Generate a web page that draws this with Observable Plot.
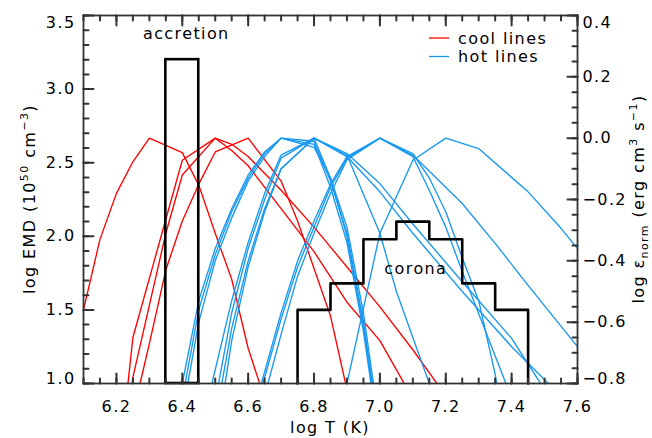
<!DOCTYPE html>
<html><head><meta charset="utf-8">
<script src="https://cdn.jsdelivr.net/npm/d3@7"></script>
<script src="https://cdn.jsdelivr.net/npm/@observablehq/plot@0.6"></script>
<style>body{margin:0;background:#fff}svg{display:block}</style>
</head><body><div id="chart"></div>
<script>
// ---- axis ticks / labels ----
const logTTicks = [6.2, 6.4, 6.6, 6.8, 7.0, 7.2, 7.4, 7.6];
const emdTicks = [1.0, 1.5, 2.0, 2.5, 3.0, 3.5];
const epsTicks = [-0.8, -0.6, -0.4, -0.2, 0.0, 0.2, 0.4];
const logTDomain = [6.1, 7.6];
const emdDomain = [1.0, 3.5];
const epsDomain = [-0.8, 0.4];

// ---- EMD histogram (left axis, log EMD) ----
const accretionEdges = [6.35, 6.45];
const accretionEMD = [3.2];
const coronaEdges = [6.75, 6.85, 6.95, 7.05, 7.15, 7.25, 7.35, 7.45];
const coronaEMD = [1.5, 1.68, 1.98, 2.1, 1.98, 1.68, 1.5];

// ---- line emissivities (right axis, log eps_norm) as [logT, eps] ----
const cool1 = [[6.10,-0.56],[6.15,-0.33],[6.20,-0.18],[6.25,-0.077],[6.30,0],[6.40,-0.047],[6.45,-0.153],[6.50,-0.31],[6.55,-0.46],[6.60,-0.685],[6.65,-0.85]];
const cool2 = [[6.20,-1.15],[6.25,-0.65],[6.40,-0.072],[6.50,0],[6.55,-0.02],[6.60,-0.06],[6.70,-0.17],[6.80,-0.29],[6.90,-0.42],[7.00,-0.55],[7.10,-0.69],[7.20,-0.84]];
const cool3 = [[6.20,-1.3],[6.25,-0.78],[6.35,-0.31],[6.40,-0.12],[6.50,0],[6.55,-0.04],[6.60,-0.09],[6.70,-0.23],[6.80,-0.37],[6.90,-0.535],[7.00,-0.66],[7.10,-0.85]];
const cool4 = [[6.25,-0.90],[6.30,-0.67],[6.35,-0.43],[6.40,-0.27],[6.45,-0.15],[6.50,-0.045],[6.60,0],[6.70,-0.14],[6.75,-0.27],[6.85,-0.58],[6.90,-0.82]];

const hot1 = [[6.40,-0.85],[6.45,-0.56],[6.50,-0.38],[6.55,-0.24],[6.60,-0.13],[6.65,-0.05],[6.70,0],[6.80,-0.01],[6.85,-0.14],[6.90,-0.31],[6.95,-0.60],[7.00,-0.98]];
const hot2 = [[6.40,-0.80],[6.45,-0.53],[6.50,-0.36],[6.55,-0.23],[6.60,-0.12],[6.65,-0.045],[6.70,0],[6.80,-0.02],[6.85,-0.16],[6.90,-0.34],[6.95,-0.63],[7.00,-1.0]];
const hot3 = [[6.40,-0.90],[6.45,-0.60],[6.50,-0.40],[6.55,-0.26],[6.60,-0.14],[6.65,-0.06],[6.70,0],[6.80,-0.03],[6.85,-0.13],[6.90,-0.29],[6.95,-0.57],[7.00,-0.95]];
const hot4 = [[6.49,-0.80],[6.55,-0.53],[6.60,-0.34],[6.65,-0.18],[6.70,-0.055],[6.80,0],[6.85,-0.13],[6.90,-0.32],[6.95,-0.61],[7.00,-0.97]];
const hot5 = [[6.51,-0.80],[6.55,-0.57],[6.60,-0.36],[6.65,-0.20],[6.70,-0.065],[6.80,0],[6.90,-0.055],[7.00,-0.31],[7.05,-0.50],[7.10,-0.65],[7.15,-0.80]];
const hot6 = [[6.52,-0.80],[6.55,-0.62],[6.60,-0.40],[6.65,-0.23],[6.70,-0.10],[6.80,0],[6.90,-0.05],[7.00,-0.148],[7.10,-0.28],[7.25,-0.468],[7.40,-0.653],[7.50,-0.82]];
const hot7 = [[6.53,-0.80],[6.55,-0.66],[6.60,-0.42],[6.65,-0.24],[6.70,-0.10],[6.80,0],[6.90,-0.06],[7.00,-0.175],[7.10,-0.31],[7.25,-0.50],[7.40,-0.68],[7.53,-0.82]];
const hot8 = [[6.64,-0.80],[6.70,-0.57],[6.75,-0.40],[6.80,-0.27],[6.85,-0.15],[6.90,-0.06],[7.00,0],[7.10,-0.05],[7.15,-0.13],[7.20,-0.24],[7.25,-0.39],[7.30,-0.53],[7.35,-0.77],[7.40,-1.1]];
const hot9 = [[6.66,-0.80],[6.70,-0.64],[6.75,-0.45],[6.80,-0.31],[6.85,-0.18],[6.90,-0.07],[7.00,0],[7.10,-0.06],[7.15,-0.17],[7.20,-0.29],[7.25,-0.435],[7.39,-0.82]];
const hot10 = [[6.645,-0.80],[6.70,-0.59],[6.75,-0.42],[6.80,-0.29],[6.85,-0.16],[6.90,-0.065],[7.00,0],[7.10,-0.055],[7.25,-0.213],[7.35,-0.343],[7.45,-0.48],[7.60,-0.68]];
const hot11 = [[6.90,-0.80],[7.00,-0.31],[7.10,-0.072],[7.20,0],[7.30,-0.034],[7.45,-0.175],[7.55,-0.294],[7.60,-0.36]];

const coolLines = [cool1, cool2, cool3, cool4];
const hotLines = [hot1, hot2, hot3, hot4, hot5, hot6, hot7, hot8, hot9, hot10, hot11];
const legendLabels = ["cool lines", "hot lines"];

// ---- styling ----
const RED = "#ff0000", BLUE = "#1898f0", AXIS = "#333333";
const W = 652, H = 438, ML = 83, MR = 75, MT = 15, MB = 55;
const FW = W - ML - MR, FH = H - MT - MB;
const MAJ = 10, MIN = 5;

// map right-axis emissivity onto the left-axis (EMD) scale
const toEMD = e => emdDomain[0] + (e - epsDomain[0]) / (epsDomain[1] - epsDomain[0]) * (emdDomain[1] - emdDomain[0]);
const toEps = v => epsDomain[0] + (v - emdDomain[0]) / (emdDomain[1] - emdDomain[0]) * (epsDomain[1] - epsDomain[0]);
const fmt1 = d3.format(".1f");
const epsFmt = d => fmt1(Math.round(toEps(d) * 100) / 100 + 0);

const rows = [];
coolLines.forEach((ln, k) => ln.forEach(([T, e]) => rows.push({T, emd: toEMD(e), id: "c" + k, kind: "cool"})));
hotLines.forEach((ln, k) => ln.forEach(([T, e]) => rows.push({T, emd: toEMD(e), id: "h" + k, kind: "hot"})));

const steps = [{T: coronaEdges[0], v: emdDomain[0]}]
  .concat(coronaEMD.map((v, i) => ({T: coronaEdges[i], v})))
  .concat([{T: coronaEdges[coronaEdges.length - 1], v: emdDomain[0]}]);
const accretion = accretionEMD.map((v, i) => ({x1: accretionEdges[i], x2: accretionEdges[i + 1], y1: emdDomain[0], y2: v}));

const minorT = d3.range(6.1, 7.6001, 0.05);
const minorEMD = d3.range(1.0, 3.5001, 0.1);
const minorEps = d3.range(-0.8, 0.4001, 0.05).map(toEMD);
const majorEps = epsTicks.map(toEMD);

// plain tick shape (no arrowhead) for the vector mark
const tickShape = {draw(context, l) { context.moveTo(0, 0); context.lineTo(0, -l); }};
const tick = (data, pos, len, rotate) => Plot.vector(data, {...pos, length: len, rotate, anchor: "start", shape: tickShape, stroke: AXIS, strokeWidth: 2});

const chart = Plot.plot({
  width: W, height: H,
  marginLeft: ML, marginRight: MR, marginTop: MT, marginBottom: MB,
  x: {domain: logTDomain},
  y: {domain: emdDomain},
  style: {fontFamily: "DejaVu Sans", fontSize: "16px", letterSpacing: "1.4px", background: "#fff", color: "#000"},
  marks: [
    Plot.line(rows.filter(d => d.kind === "cool"), {x: "T", y: "emd", z: "id", stroke: RED, strokeWidth: 1.35, clip: true}),
    Plot.line(rows.filter(d => d.kind === "hot"), {x: "T", y: "emd", z: "id", stroke: BLUE, strokeWidth: 1.35, clip: true}),
    Plot.rect(accretion, {x1: "x1", x2: "x2", y1: "y1", y2: "y2", fill: "none", stroke: "#000", strokeWidth: 2.6}),
    Plot.line(steps, {x: "T", y: "v", curve: "step-after", stroke: "#000", strokeWidth: 2.6}),
    // inward ticks: bottom/top (logT), left (EMD), right (eps)
    tick(minorT, {x: d => d, y: emdDomain[0]}, MIN, 0),
    tick(logTTicks, {x: d => d, y: emdDomain[0]}, MAJ, 0),
    tick(minorT, {x: d => d, y: emdDomain[1]}, MIN, 180),
    tick(logTTicks, {x: d => d, y: emdDomain[1]}, MAJ, 180),
    tick(minorEMD, {x: logTDomain[0], y: d => d}, MIN, 90),
    tick(emdTicks, {x: logTDomain[0], y: d => d}, MAJ, 90),
    tick(minorEps, {x: logTDomain[1], y: d => d}, MIN, -90),
    tick(majorEps, {x: logTDomain[1], y: d => d}, MAJ, -90),
    Plot.frame({stroke: AXIS, strokeWidth: 1.8}),
    // axis tick labels
    Plot.axisX({ticks: logTTicks, tickSize: 0, tickPadding: 17, tickFormat: fmt1, label: null}),
    Plot.axisY({ticks: emdTicks.slice(1, -1), tickSize: 0, tickPadding: 8, tickFormat: fmt1, label: null}),
    Plot.axisY({ticks: emdTicks.slice(-1), tickSize: 0, tickPadding: 8, tickFormat: fmt1, label: null, dy: 7}),
    Plot.axisY({ticks: emdTicks.slice(0, 1), tickSize: 0, tickPadding: 8, tickFormat: fmt1, label: null, dy: -5}),
    Plot.axisY({anchor: "right", ticks: majorEps.slice(1, -1), tickSize: 0, tickPadding: 5, tickFormat: epsFmt, label: null}),
    Plot.axisY({anchor: "right", ticks: majorEps.slice(-1), tickSize: 0, tickPadding: 5, tickFormat: epsFmt, label: null, dy: 7}),
    Plot.axisY({anchor: "right", ticks: majorEps.slice(0, 1), tickSize: 0, tickPadding: 5, tickFormat: epsFmt, label: null, dy: -5}),
    // annotations
    Plot.text(["accretion"], {x: d3.mean(accretionEdges), frameAnchor: "top", lineAnchor: "bottom", dy: 23, dx: 4, fontSize: 16}),
    Plot.text(["corona"], {x: d3.mean([coronaEdges[0], coronaEdges[coronaEdges.length - 1]]), y: d3.max(coronaEMD), lineAnchor: "bottom", dy: 52, dx: 3, fontSize: 16})
  ]
});
document.getElementById("chart").appendChild(chart);

// ---- axis titles and legend (with super/subscripts) ----
const svg = d3.select(chart);
function rich(parent, parts) {
  parts.forEach(([txt, shift, size]) => {
    parent.append("tspan").attr("dy", shift).attr("font-size", size || 16).text(txt);
  });
}
const yt = svg.append("text").attr("transform", `translate(35,${MT + FH / 2}) rotate(-90)`).attr("text-anchor", "middle").attr("font-size", 16);
rich(yt, [["log EMD (10", 0], ["50", -7, 11], [" cm", 7], ["\u22123", -7, 11], [")", 7]]);
const rt = svg.append("text").attr("transform", `translate(644,${MT + FH / 2}) rotate(-90)`).attr("text-anchor", "middle").attr("font-size", 16);
rich(rt, [["log \u03b5", 0], ["norm", 4, 11], [" (erg cm", -4], ["3", -7, 11], [" s", 7], ["\u22121", -7, 11], [")", 7]]);
svg.append("text").attr("x", ML + FW / 2).attr("y", 433).attr("text-anchor", "middle").attr("font-size", 16).text("log T (K)");

const lg = svg.append("g");
[[RED, 38, 43.5], [BLUE, 56.5, 61.7]].forEach(([c, ly, ty], i) => {
  lg.append("line").attr("x1", 429).attr("x2", 449).attr("y1", ly).attr("y2", ly).attr("stroke", c).attr("stroke-width", 1.3);
  lg.append("text").attr("x", 458).attr("y", ty).attr("text-anchor", "start").attr("font-size", 16).text(legendLabels[i]);
});
</script>
</body></html>
